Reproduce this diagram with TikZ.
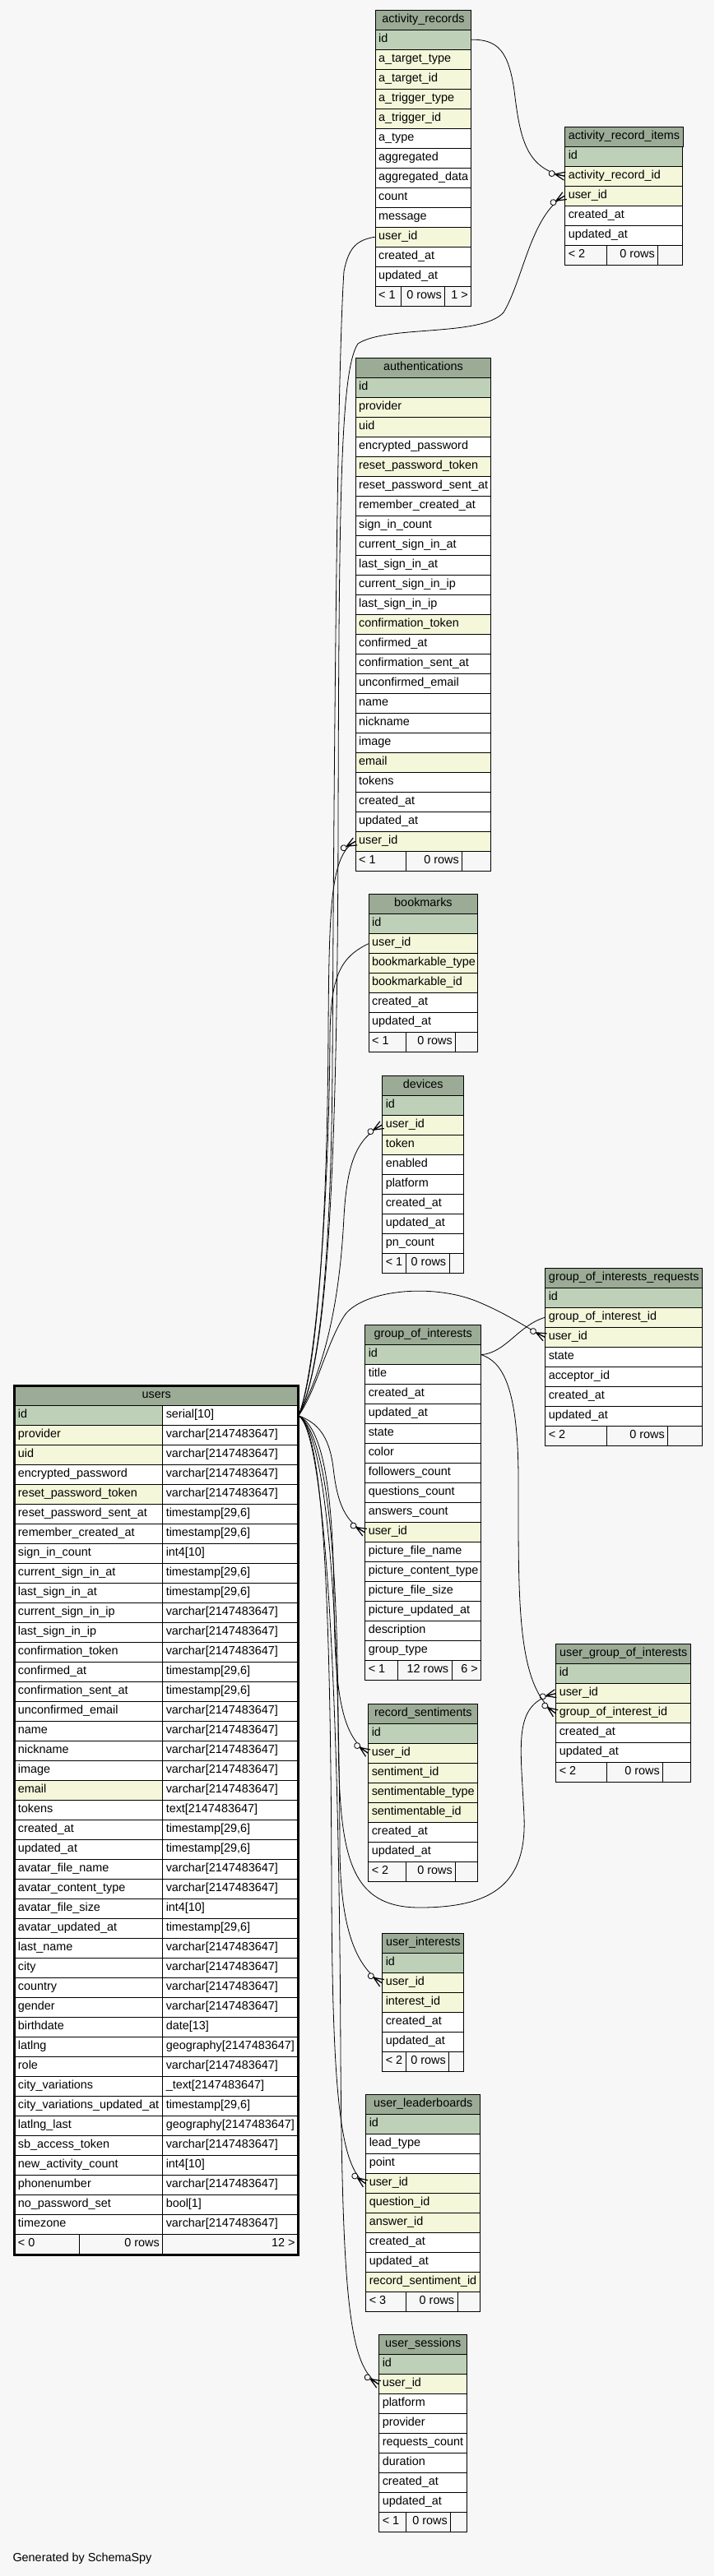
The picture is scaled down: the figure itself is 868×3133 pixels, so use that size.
\documentclass[tikz,border=0pt]{standalone}
\usepackage{fontspec}
\setmainfont{Liberation Sans}
\usepackage{tikz}
\usetikzlibrary{decorations.markings}
\definecolor{HeadGreen}{HTML}{9BAB96}
\definecolor{KeyGreen}{HTML}{BED1B8}
\definecolor{IndexCream}{HTML}{F4F7DA}
\definecolor{PageGray}{HTML}{F7F7F7}
\newcommand{\tabfont}{\fontsize{14.4}{17}\selectfont}
\newcommand{\vchar}{varchar[2147483647]}
\newcommand{\tstamp}{timestamp[29,6]}
\tikzset{
  rowbox/.style={rectangle, draw=black, line width=0.9pt, minimum height=24pt, inner xsep=4pt, inner ysep=0pt, anchor=north west, font=\tabfont, text height=10pt, text depth=4pt},
  headbox/.style={rowbox, fill=HeadGreen},
  pkcol/.style={rowbox, fill=KeyGreen},
  ixcol/.style={rowbox, fill=IndexCream},
  plcol/.style={rowbox, fill=white},
  footbox/.style={rowbox, fill=PageGray},
  fklink/.style={line width=0.8pt, postaction={decorate, decoration={markings, mark=at position 1 with {
      \draw[line width=1.2pt] (-12pt,0pt) -- (0pt,5pt) (-12pt,0pt) -- (0pt,-5pt) (-12pt,0pt) -- (0pt,0pt);
      \draw[line width=0.8pt, fill=PageGray] (-16pt,0pt) circle (3.5pt);}}}}
}
% table: key, title, left x, top y, width, rows
\newcommand{\dbtable}[6]{%
  \node[headbox, minimum width=#5pt] (#1-0) at (#3,-#4) {#2};
  \foreach \cls/\txt [count=\i] in {#6}
    \node[\cls, minimum width=#5pt] (#1-\i) at (#3,{-#4-24*\i})
      {\makebox[\dimexpr#5pt-8pt\relax][l]{\txt}};
}
% footer: key, left x, y, split 1, split 2, right x, texts
\newcommand{\dbfoot}[9]{%
  \node[footbox] (#1-f1) at (#2,-#3) {\makebox[\dimexpr#4pt-#2pt-8pt\relax][l]{#7}};
  \node[footbox] (#1-f2) at (#4,-#3) {\makebox[\dimexpr#5pt-#4pt-8pt\relax][r]{#8}};
  \node[footbox] (#1-f3) at (#5,-#3) {\makebox[\dimexpr#6pt-#5pt-8pt\relax][r]{#9}};
}
\begin{document}
\begin{tikzpicture}[x=1pt, y=1pt]
  \useasboundingbox (0,0) rectangle (868,-3133);
  \fill[PageGray] (0,0) rectangle (868,-3133);

  % tables on the right
  \dbtable{ar}{activity\_records}{455.7}{11.7}{116.6}{pkcol/id, ixcol/a\_target\_type, ixcol/a\_target\_id, ixcol/a\_trigger\_type, ixcol/a\_trigger\_id, plcol/a\_type, plcol/aggregated, plcol/aggregated\_data, plcol/count, plcol/message, ixcol/user\_id, plcol/created\_at, plcol/updated\_at}
  \dbfoot{ar}{455.7}{347.7}{487.3}{540.3}{572.3}{< 1}{0 rows}{1 >}

  \dbtable{ari}{activity\_record\_items}{686.3}{153.7}{143}{pkcol/id, ixcol/activity\_record\_id, ixcol/user\_id, plcol/created\_at, plcol/updated\_at}
  \dbfoot{ari}{686.3}{297.7}{737.3}{799.3}{829.3}{< 2}{0 rows}{}

  \dbtable{auth}{authentications}{431.7}{435}{164.6}{pkcol/id, ixcol/provider, ixcol/uid, plcol/encrypted\_password, ixcol/reset\_password\_token, plcol/reset\_password\_sent\_at, plcol/remember\_created\_at, plcol/sign\_in\_count, plcol/current\_sign\_in\_at, plcol/last\_sign\_in\_at, plcol/current\_sign\_in\_ip, plcol/last\_sign\_in\_ip, ixcol/confirmation\_token, plcol/confirmed\_at, plcol/confirmation\_sent\_at, plcol/unconfirmed\_email, plcol/name, plcol/nickname, plcol/image, ixcol/email, plcol/tokens, plcol/created\_at, plcol/updated\_at, ixcol/user\_id}
  \dbfoot{auth}{431.7}{1035}{493.3}{561.3}{596.3}{< 1}{0 rows}{}

  \dbtable{bm}{bookmarks}{447.7}{1087.3}{132.6}{pkcol/id, ixcol/user\_id, ixcol/bookmarkable\_type, ixcol/bookmarkable\_id, plcol/created\_at, plcol/updated\_at}
  \dbfoot{bm}{447.7}{1255.3}{493.3}{553.3}{580.3}{< 1}{0 rows}{}

  \dbtable{dev}{devices}{464.3}{1307.7}{99}{pkcol/id, ixcol/user\_id, ixcol/token, plcol/enabled, plcol/platform, plcol/created\_at, plcol/updated\_at, plcol/pn\_count}
  \dbfoot{dev}{464.3}{1523.7}{493.3}{545.7}{563.3}{< 1}{0 rows}{}

  \dbtable{goi}{group\_of\_interests}{443.3}{1611.2}{141}{pkcol/id, plcol/title, plcol/created\_at, plcol/updated\_at, plcol/state, plcol/color, plcol/followers\_count, plcol/questions\_count, plcol/answers\_count, ixcol/user\_id, plcol/picture\_file\_name, plcol/picture\_content\_type, plcol/picture\_file\_size, plcol/picture\_updated\_at, plcol/description, plcol/group\_type}
  \dbfoot{goi}{443.3}{2019.2}{483.3}{548.7}{584.3}{< 1}{12 rows}{6 >}

  \dbtable{gir}{group\_of\_interests\_requests}{662.3}{1541.8}{191}{pkcol/id, ixcol/group\_of\_interest\_id, ixcol/user\_id, plcol/state, plcol/acceptor\_id, plcol/created\_at, plcol/updated\_at}
  \dbfoot{gir}{662.3}{1733.8}{737.3}{811.3}{853.3}{< 2}{0 rows}{}

  \dbtable{rs}{record\_sentiments}{447.3}{2071.7}{133}{pkcol/id, ixcol/user\_id, ixcol/sentiment\_id, ixcol/sentimentable\_type, ixcol/sentimentable\_id, plcol/created\_at, plcol/updated\_at}
  \dbfoot{rs}{447.3}{2263.7}{493.3}{553.3}{580.3}{< 2}{0 rows}{}

  \dbtable{ugoi}{user\_group\_of\_interests}{675.3}{1999.3}{164}{pkcol/id, ixcol/user\_id, ixcol/group\_of\_interest\_id, plcol/created\_at, plcol/updated\_at}
  \dbfoot{ugoi}{675.3}{2143.3}{737.3}{805.3}{839.3}{< 2}{0 rows}{}

  \dbtable{ui}{user\_interests}{464.3}{2351.3}{99}{pkcol/id, ixcol/user\_id, ixcol/interest\_id, plcol/created\_at, plcol/updated\_at}
  \dbfoot{ui}{464.3}{2495.3}{493.3}{545.3}{563.3}{< 2}{0 rows}{}

  \dbtable{ul}{user\_leaderboards}{444.3}{2547.3}{139}{pkcol/id, plcol/lead\_type, plcol/point, ixcol/user\_id, ixcol/question\_id, ixcol/answer\_id, plcol/created\_at, plcol/updated\_at, ixcol/record\_sentiment\_id}
  \dbfoot{ul}{444.3}{2787.3}{493.3}{555.7}{583.3}{< 3}{0 rows}{}

  \dbtable{us}{user\_sessions}{460.3}{2839.3}{107}{pkcol/id, ixcol/user\_id, plcol/platform, plcol/provider, plcol/requests\_count, plcol/duration, plcol/created\_at, plcol/updated\_at}
  \dbfoot{us}{460.3}{3055.3}{493.3}{547.3}{567.3}{< 1}{0 rows}{}

  % users, the table in focus
  \node[headbox, minimum width=344.5pt] (users-0) at (17.5,-1685.3) {users};
  \foreach \cls/\nm/\tp [count=\i] in {pkcol/id/serial[10], ixcol/provider/\vchar, ixcol/uid/\vchar, plcol/encrypted\_password/\vchar, ixcol/reset\_password\_token/\vchar, plcol/reset\_password\_sent\_at/\tstamp, plcol/remember\_created\_at/\tstamp, plcol/sign\_in\_count/int4[10], plcol/current\_sign\_in\_at/\tstamp, plcol/last\_sign\_in\_at/\tstamp, plcol/current\_sign\_in\_ip/\vchar, plcol/last\_sign\_in\_ip/\vchar, plcol/confirmation\_token/\vchar, plcol/confirmed\_at/\tstamp, plcol/confirmation\_sent\_at/\tstamp, plcol/unconfirmed\_email/\vchar, plcol/name/\vchar, plcol/nickname/\vchar, plcol/image/\vchar, ixcol/email/\vchar, plcol/tokens/text[2147483647], plcol/created\_at/\tstamp, plcol/updated\_at/\tstamp, plcol/avatar\_file\_name/\vchar, plcol/avatar\_content\_type/\vchar, plcol/avatar\_file\_size/int4[10], plcol/avatar\_updated\_at/\tstamp, plcol/last\_name/\vchar, plcol/city/\vchar, plcol/country/\vchar, plcol/gender/\vchar, plcol/birthdate/date[13], plcol/latlng/geography[2147483647], plcol/role/\vchar, plcol/city\_variations/\_text[2147483647], plcol/city\_variations\_updated\_at/\tstamp, plcol/latlng\_last/geography[2147483647], plcol/sb\_access\_token/\vchar, plcol/new\_activity\_count/int4[10], plcol/phonenumber/\vchar, plcol/no\_password\_set/bool[1], plcol/timezone/\vchar} {
    \node[\cls, minimum width=179.8pt] (users-\i) at (17.5,{-1685.3-24*\i}) {\makebox[171.8pt][l]{\nm}};
    \node[plcol, minimum width=164.7pt] (users-\i-t) at (197.3,{-1685.3-24*\i}) {\makebox[156.7pt][l]{\tp}};
  }
  \dbfoot{users}{17.5}{2717.3}{96.3}{197.3}{362}{< 0}{0 rows}{12 >}
  \draw[line width=3pt] (users-0.north west) rectangle (users-f3.south east);

  % links from users.id
  \draw[fklink] (users-1-t.east) .. controls (385,-1680) and (402,-1560) .. (404,-1300) .. controls (406,-900) and (410,-450) .. (418,-330) .. controls (424,-300) and (434,-292) .. (ar-11.west);
  \draw[fklink] (users-1-t.east) .. controls (388,-1670) and (410,-1550) .. (411,-1000) .. controls (412,-600) and (414,-450) .. (435,-418) .. controls (470,-395) and (585,-410) .. (612,-380) .. controls (636,-340) and (645,-262) .. (ari-3.west);
  \draw[fklink] (users-1-t.east) .. controls (384,-1670) and (398,-1500) .. (399,-1250) .. controls (400,-1100) and (402,-1040) .. (auth-24.west);
  \draw[fklink] (users-1-t.east) .. controls (385,-1665) and (400,-1450) .. (401,-1260) .. controls (402,-1190) and (412,-1165) .. (bm-2.west);
  \draw[fklink] (users-1-t.east) .. controls (390,-1670) and (412,-1600) .. (418,-1480) .. controls (422,-1410) and (435,-1385) .. (dev-2.west);
  \draw[fklink] (users-1-t.east) .. controls (385,-1690) and (398,-1630) .. (420,-1598) .. controls (445,-1568) and (530,-1560) .. (585,-1585) .. controls (620,-1600) and (640,-1615) .. (gir-3.west);
  \draw[fklink] (users-1-t.east) .. controls (385,-1730) and (400,-1745) .. (405,-1785) .. controls (410,-1830) and (420,-1850) .. (goi-10.west);
  \draw[fklink] (users-1-t.east) .. controls (390,-1735) and (405,-1800) .. (406,-1950) .. controls (407,-2070) and (418,-2112) .. (rs-2.west);
  \draw[fklink] (users-1-t.east) .. controls (392,-1740) and (410,-1850) .. (411,-2100) .. controls (412,-2250) and (420,-2320) .. (510,-2320) .. controls (600,-2320) and (640,-2290) .. (637,-2210) .. controls (633,-2120) and (622,-2072) .. (ugoi-2.west);
  \draw[fklink] (users-1-t.east) .. controls (392,-1740) and (412,-1900) .. (413,-2250) .. controls (414,-2340) and (430,-2390) .. (ui-2.west);
  \draw[fklink] (users-1-t.east) .. controls (390,-1740) and (402,-1900) .. (403,-2300) .. controls (404,-2560) and (415,-2635) .. (ul-4.west);
  \draw[fklink] (users-1-t.east) .. controls (392,-1740) and (412,-2000) .. (414,-2500) .. controls (416,-2800) and (425,-2878) .. (us-2.west);

  % other links
  \draw[fklink] (ar-1.east) .. controls (605,-48) and (618,-62) .. (625,-110) .. controls (632,-170) and (640,-205) .. (ari-2.west);
  \draw[fklink] (goi-1.east) .. controls (615,-1645) and (630,-1612) .. (gir-2.west);
  \draw[fklink] (goi-1.east) .. controls (608,-1656) and (630,-1680) .. (630,-1800) .. controls (630,-1950) and (628,-2050) .. (ugoi-3.west);

  \node[font=\tabfont, anchor=west] (credit) at (12,-3112) {Generated by SchemaSpy};
\end{tikzpicture}
\end{document}
